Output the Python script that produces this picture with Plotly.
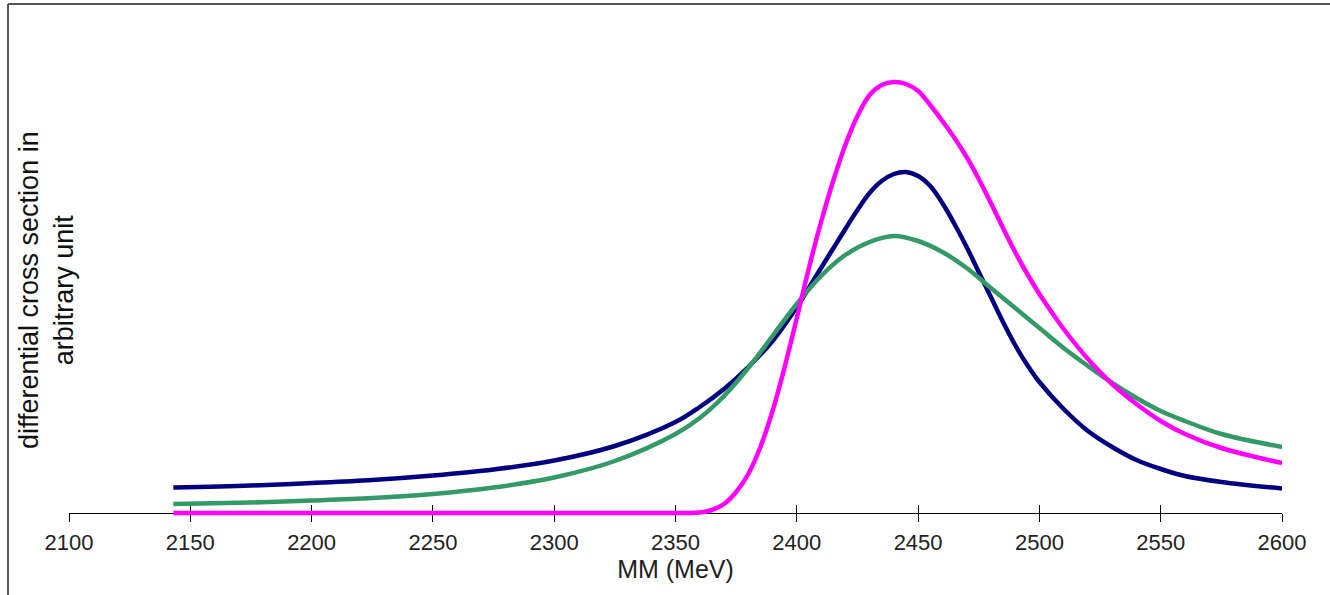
import plotly.graph_objects as go

# ---- data (arbitrary units) ----
navy_x = [2143, 2175, 2200, 2225, 2250, 2275, 2300, 2325, 2350, 2360, 2370, 2380, 2390, 2400, 2410,
          2420, 2425, 2430, 2435, 2440, 2445, 2450, 2455, 2460, 2465, 2470, 2475, 2480, 2485, 2490,
          2495, 2500, 2510, 2520, 2530, 2540, 2550, 2560, 2575, 2600]
navy_y = [0.255, 0.275, 0.30, 0.33, 0.375, 0.435, 0.525, 0.67, 0.91, 1.06, 1.24, 1.46, 1.72, 2.06, 2.45,
          2.84, 3.03, 3.20, 3.32, 3.39, 3.41, 3.37, 3.27, 3.10, 2.89, 2.66, 2.41, 2.16, 1.91, 1.68,
          1.48, 1.31, 1.04, 0.82, 0.66, 0.53, 0.44, 0.37, 0.31, 0.245]

green_x = [2143, 2175, 2200, 2225, 2250, 2275, 2300, 2325, 2350, 2360, 2370, 2380, 2390, 2400, 2410,
           2420, 2430, 2440, 2450, 2460, 2470, 2480, 2490, 2500, 2510, 2520, 2530, 2540, 2550, 2560,
           2575, 2600]
green_y = [0.09, 0.105, 0.125, 0.15, 0.19, 0.255, 0.355, 0.52, 0.79, 0.95, 1.17, 1.45, 1.77, 2.09, 2.37,
           2.58, 2.71, 2.77, 2.72, 2.61, 2.45, 2.25, 2.05, 1.85, 1.65, 1.47, 1.30, 1.15, 1.02, 0.92,
           0.79, 0.66]

magenta_x = [2143, 2200, 2250, 2300, 2350, 2355, 2360, 2365, 2370, 2375, 2380, 2385, 2390, 2395, 2400,
             2405, 2410, 2415, 2420, 2425, 2430, 2435, 2440, 2445, 2450, 2455, 2460, 2465, 2470, 2475,
             2480, 2485, 2490, 2495, 2500, 2505, 2510, 2520, 2530, 2540, 2550, 2560, 2575, 2600]
magenta_y = [0, 0, 0, 0, 0, 0, 0.005, 0.03, 0.09, 0.21, 0.39, 0.66, 1.02, 1.46, 1.95,
             2.45, 2.91, 3.32, 3.68, 3.97, 4.18, 4.28, 4.31, 4.29, 4.22, 4.08, 3.92, 3.75, 3.56, 3.34,
             3.10, 2.85, 2.61, 2.39, 2.19, 2.01, 1.84, 1.54, 1.29, 1.09, 0.92, 0.79, 0.65, 0.50]

x_ticks = [2100, 2150, 2200, 2250, 2300, 2350, 2400, 2450, 2500, 2550, 2600]

y_title = "differential cross section in<br>arbitrary unit"
x_title = "MM (MeV)"

fig = go.Figure()
for xs, ys, col in [(navy_x, navy_y, "#000080"),
                    (green_x, green_y, "#339966"),
                    (magenta_x, magenta_y, "#FF00FF")]:
    fig.add_trace(go.Scatter(x=xs, y=ys, mode="lines",
                             line=dict(color=col, width=4.5, shape="spline", smoothing=1.0),
                             showlegend=False, hoverinfo="skip"))

fig.add_trace(go.Scatter(x=[2100, 2600], y=[None, None], xaxis="x2", mode="lines",
                         showlegend=False, hoverinfo="skip"))

ymin, ymax = -0.04, 5.0
pos0 = (0 - ymin) / (ymax - ymin)

fig.update_layout(
    width=1330, height=595,
    margin=dict(l=69, r=48, t=13, b=78),
    paper_bgcolor="white", plot_bgcolor="white",
    font=dict(family="Liberation Sans, Arial, sans-serif", color="#222"),
    xaxis=dict(range=[2100, 2600], tickvals=x_ticks, ticks="outside", ticklen=8,
               tickcolor="black", tickwidth=1, showline=True, linecolor="black", linewidth=1,
               showgrid=False, zeroline=False, anchor="free", position=pos0,
               layer="below traces",
               tickfont=dict(size=22, color="#222"), ticklabelstandoff=2,
               title=dict(text=x_title, font=dict(size=25, color="#222"), standoff=6)),
    xaxis2=dict(range=[2100, 2600], tickvals=x_ticks, ticks="inside", ticklen=8,
                tickcolor="black", tickwidth=1, showline=False, showgrid=False, zeroline=False,
                overlaying="x", anchor="free", position=pos0, showticklabels=False,
                layer="below traces"),
    yaxis=dict(range=[ymin, ymax], showticklabels=False, showgrid=False, zeroline=False,
               showline=False, ticks=""),
    annotations=[dict(text=y_title, textangle=-90, xref="paper", yref="paper",
                      x=0, xshift=-23, y=(2.23 - ymin) / (ymax - ymin), xanchor="center",
                      yanchor="middle", showarrow=False,
                      font=dict(size=27, color="#111"))],
    shapes=[
        dict(type="line", xref="paper", yref="paper", x0=-61 / 1213, x1=1.2,
             y0=(509 + 4) / 504, y1=(509 + 4) / 504, line=dict(color="#555", width=2)),
        dict(type="line", xref="paper", yref="paper", x0=-61 / 1213, x1=-61 / 1213,
             y0=-0.3, y1=(509 + 4) / 504, line=dict(color="#555", width=2)),
    ],
)

fig.write_html("out.html")
